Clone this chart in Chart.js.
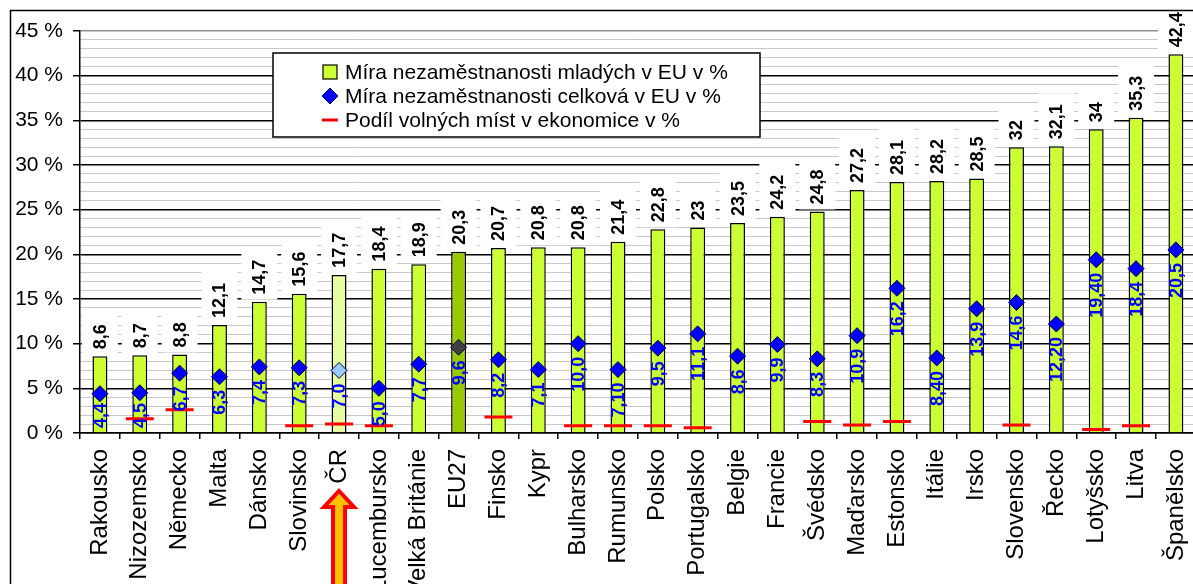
<!DOCTYPE html>
<html lang="cs">
<head>
  <meta charset="UTF-8">
  <title>Nezaměstnanost mladých v EU</title>
  <script src="https://cdn.jsdelivr.net/npm/chart.js"></script>
  <style>
    body { margin: 0; background: #fff; overflow: hidden; }
    #wrap { width: 1215px; height: 584px; }
  </style>
</head>
<body>
  <div id="wrap"><canvas id="c"></canvas></div>
  <script>
    const countries = ['Rakousko', 'Nizozemsko', 'Německo', 'Malta', 'Dánsko', 'Slovinsko', 'ČR', 'Lucembursko',
      'Velká Británie', 'EU27', 'Finsko', 'Kypr', 'Bulharsko', 'Rumunsko', 'Polsko', 'Portugalsko', 'Belgie',
      'Francie', 'Švédsko', 'Maďarsko', 'Estonsko', 'Itálie', 'Irsko', 'Slovensko', 'Řecko', 'Lotyšsko', 'Litva', 'Španělsko'];
    const youth = [8.6, 8.7, 8.8, 12.1, 14.7, 15.6, 17.7, 18.4, 18.9, 20.3, 20.7, 20.8, 20.8, 21.4, 22.8, 23, 23.5,
      24.2, 24.8, 27.2, 28.1, 28.2, 28.5, 32, 32.1, 34, 35.3, 42.4];
    const total = [4.4, 4.5, 6.7, 6.3, 7.4, 7.3, 7.0, 5.0, 7.7, 9.6, 8.2, 7.1, 10.0, 7.1, 9.5, 11.1, 8.6,
      9.9, 8.3, 10.9, 16.2, 8.4, 13.9, 14.6, 12.2, 19.4, 18.4, 20.5];
    const totalText = ['4,4', '4,5', '6,7', '6,3', '7,4', '7,3', '7,0', '5,0', '7,7', '9,6', '8,2', '7,1', '10,0', '7,10',
      '9,5', '11,1', '8,6', '9,9', '8,3', '10,9', '16,2', '8,40', '13,9', '14,6', '12,20', '19,40', '18,4', '20,5'];
    const vacancies = [null, 1.6, 2.6, null, null, 0.8, 1.0, 0.8, null, null, 1.8, null, 0.8, 0.8, 0.8, 0.6, null,
      null, 1.3, 0.9, 1.3, null, null, 0.9, null, 0.4, 0.8, null];

    const CR = countries.indexOf('ČR');
    const EU = countries.indexOf('EU27');
    const FONT = '"Liberation Sans", Arial, sans-serif';

    const barColors = countries.map((c, i) => i === CR ? '#e6ff9c' : i === EU ? '#99cc00' : '#ccff33');
    const diamondColors = countries.map((c, i) => i === CR ? '#99ccff' : i === EU ? '#404040' : '#0000ff');

    // value labels: black above bars (white box), blue below diamonds
    const valueLabels = {
      id: 'valueLabels',
      afterDatasetsDraw(chart) {
        const ctx = chart.ctx;
        const bars = chart.getDatasetMeta(0).data;
        const pts = chart.getDatasetMeta(1).data;
        ctx.save();
        bars.forEach((bar, i) => {
          const txt = String(youth[i]).replace('.', ',');
          ctx.font = 'bold 18px ' + FONT;
          const w = ctx.measureText(txt).width;
          const yb = bar.y - 7;
          ctx.fillStyle = '#fff';
          ctx.fillRect(bar.x - 18, yb - w - 11, 36, w + 16);
          ctx.save();
          ctx.translate(bar.x, yb);
          ctx.rotate(-Math.PI / 2);
          ctx.fillStyle = '#000';
          ctx.textAlign = 'left';
          ctx.textBaseline = 'middle';
          ctx.fillText(txt, 0, 1);
          ctx.restore();
        });
        const bottom = chart.chartArea.bottom;
        pts.forEach((p, i) => {
          ctx.font = 'bold 18px ' + FONT;
          const w = ctx.measureText(totalText[i]).width;
          let yt = p.y + 13;
          if (yt + w > bottom - 5) yt = bottom - 5 - w;
          ctx.save();
          ctx.translate(p.x, yt);
          ctx.rotate(-Math.PI / 2);
          ctx.fillStyle = '#0000ff';
          ctx.textAlign = 'right';
          ctx.textBaseline = 'middle';
          ctx.fillText(totalText[i], 0, 1);
          ctx.restore();
        });
        ctx.restore();
      }
    };

    // legend box, outer frame and arrow under ČR
    const extras = {
      id: 'extras',
      afterDraw(chart) {
        const ctx = chart.ctx;
        ctx.save();
        // legend
        const lx = 273, ly = 53, lw = 487, lh = 84;
        ctx.fillStyle = '#fff';
        ctx.fillRect(lx, ly, lw, lh);
        ctx.strokeStyle = '#000';
        ctx.lineWidth = 1.5;
        ctx.strokeRect(lx, ly, lw, lh);
        const rows = [72, 96, 120];
        const mx = 330;
        ctx.fillStyle = '#ccff33';
        ctx.fillRect(mx - 7, rows[0] - 7, 14, 14);
        ctx.lineWidth = 1.2;
        ctx.strokeRect(mx - 7, rows[0] - 7, 14, 14);
        ctx.beginPath();
        ctx.moveTo(mx, rows[1] - 8); ctx.lineTo(mx + 8, rows[1]); ctx.lineTo(mx, rows[1] + 8); ctx.lineTo(mx - 8, rows[1]);
        ctx.closePath();
        ctx.fillStyle = '#0000ff';
        ctx.fill();
        ctx.strokeStyle = '#000080';
        ctx.lineWidth = 1;
        ctx.stroke();
        ctx.strokeStyle = '#ff0000';
        ctx.lineWidth = 3;
        ctx.beginPath();
        ctx.moveTo(mx - 8, rows[2]); ctx.lineTo(mx + 8, rows[2]);
        ctx.stroke();
        ctx.fillStyle = '#000';
        ctx.font = '21px ' + FONT;
        ctx.textBaseline = 'middle';
        ctx.textAlign = 'left';
        ctx.fillText('Míra nezaměstnanosti mladých v EU v %', 345, rows[0] + 1);
        ctx.fillText('Míra nezaměstnanosti celková v EU v %', 345, rows[1] + 1);
        ctx.fillText('Podíl volných míst v ekonomice v %', 345, rows[2] + 1);

        // arrow
        const ax = chart.scales.x.getPixelForValue(CR);
        ctx.beginPath();
        ctx.moveTo(ax, 491);
        ctx.lineTo(ax + 15, 507);
        ctx.lineTo(ax + 6, 507);
        ctx.lineTo(ax + 6, 600);
        ctx.lineTo(ax - 6, 600);
        ctx.lineTo(ax - 6, 507);
        ctx.lineTo(ax - 15, 507);
        ctx.closePath();
        ctx.fillStyle = '#ffc000';
        ctx.fill();
        ctx.strokeStyle = '#ff0000';
        ctx.lineWidth = 4;
        ctx.lineJoin = 'miter';
        ctx.stroke();

        // outer frame
        ctx.strokeStyle = '#000';
        ctx.lineWidth = 1.5;
        ctx.strokeRect(10.5, 10.5, 1400, 1000);
        ctx.restore();
      }
    };

    new Chart(document.getElementById('c'), {
      type: 'bar',
      data: {
        labels: countries,
        datasets: [
          {
            label: 'Míra nezaměstnanosti mladých v EU v %',
            data: youth,
            backgroundColor: barColors,
            borderColor: '#000',
            borderWidth: 1.5,
            barPercentage: 0.375,
            categoryPercentage: 1,
            order: 3
          },
          {
            type: 'line',
            label: 'Míra nezaměstnanosti celková v EU v %',
            data: total,
            showLine: false,
            pointStyle: 'rectRot',
            pointRadius: 8,
            pointBackgroundColor: diamondColors,
            pointBorderColor: '#000050',
            pointBorderWidth: 1,
            order: 2
          },
          {
            type: 'line',
            label: 'Podíl volných míst v ekonomice v %',
            data: vacancies,
            showLine: false,
            pointStyle: 'line',
            pointRadius: 14,
            pointBorderColor: '#ff0000',
            pointBorderWidth: 3,
            order: 1
          }
        ]
      },
      options: {
        responsive: true,
        maintainAspectRatio: false,
        animation: false,
        layout: { padding: { top: 31, right: 12, left: 0, bottom: 0 } },
        plugins: {
          legend: { display: false },
          tooltip: { enabled: false }
        },
        scales: {
          x: {
            grid: { offset: true, drawOnChartArea: false, tickLength: 6, color: '#000', lineWidth: 1.5 },
            border: { color: '#000', width: 1.5 },
            ticks: {
              autoSkip: false, minRotation: 90, maxRotation: 90, padding: 10,
              color: '#000', font: { family: FONT, size: 24 }
            },
            afterFit: s => { s.height = 151; }
          },
          y: {
            min: 0, max: 45,
            border: { color: '#000', width: 1.5 },
            grid: {
              color: c => c.tick.value === 45 ? '#909090' : (c.tick.value % 5 === 0 ? '#000' : '#c8c8c8'),
              lineWidth: c => c.tick.value % 5 === 0 ? 1.5 : 1,
              tickColor: c => c.tick.value % 5 === 0 ? '#000' : 'rgba(0,0,0,0)',
              tickLength: 7
            },
            ticks: {
              stepSize: 1, autoSkip: false, padding: 10, color: '#000',
              font: { family: FONT, size: 21 },
              callback: v => v % 5 === 0 ? v + ' %' : ''
            },
            afterFit: s => { s.width = 80; }
          }
        }
      },
      plugins: [valueLabels, extras]
    });
  </script>
</body>
</html>
